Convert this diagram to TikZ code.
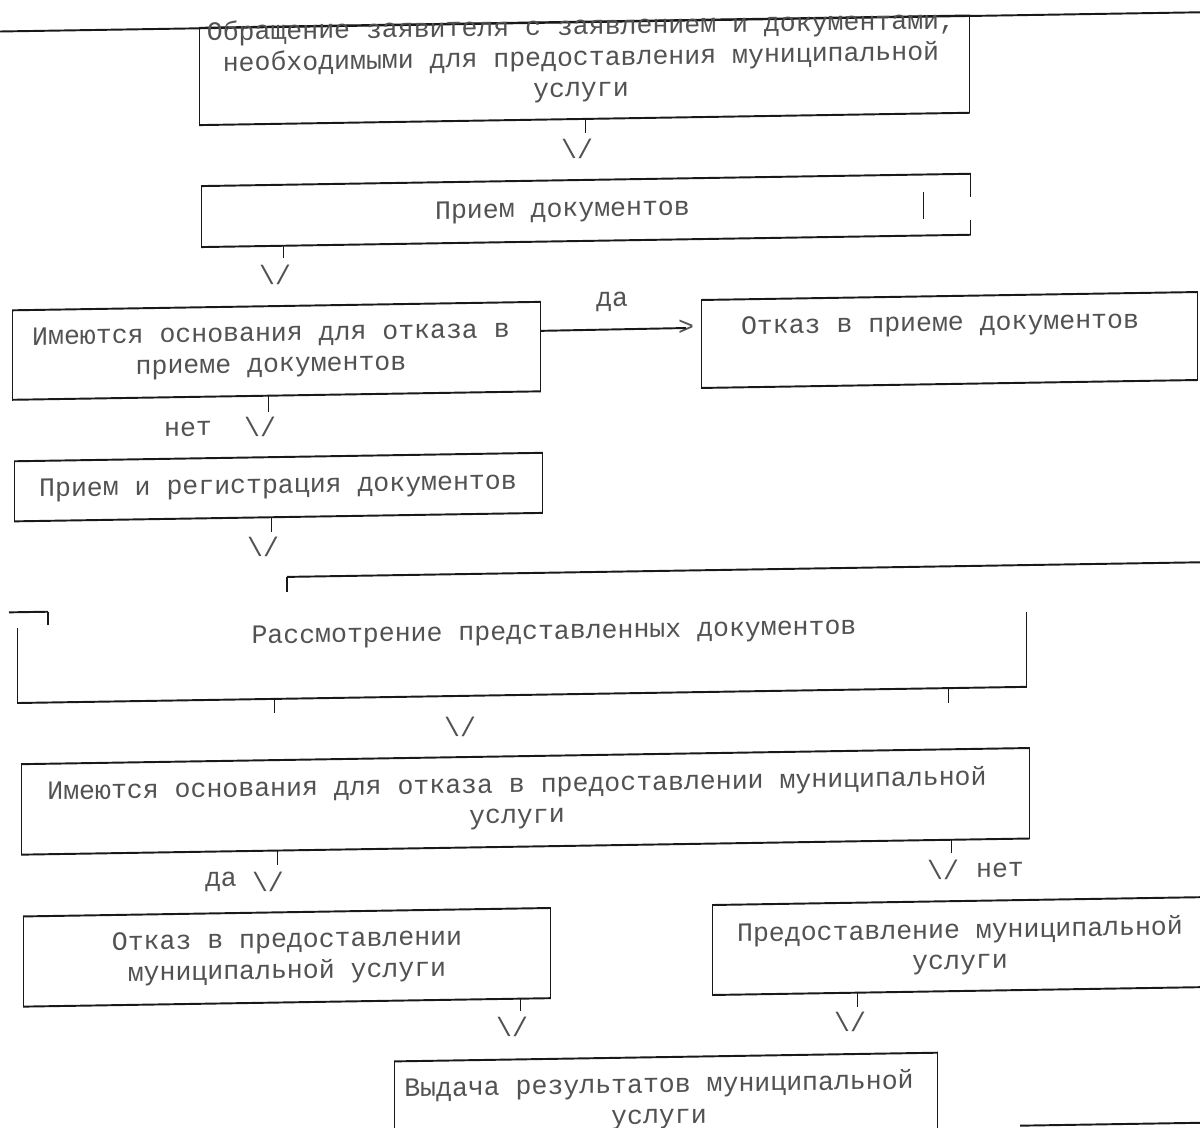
\documentclass[tikz,border=0pt]{standalone}
\usepackage{fontspec}
\newfontfamily\typew{Liberation Mono}

\tikzset{
  hline/.style={line width=1.1pt, black!90},
  vline/.style={line width=0.6pt, black!90},
  block/.style={draw=none, inner sep=0pt, outer sep=0pt, transform shape},
  txt/.style={font=\typew\fontsize{15.1pt}{17.6pt}\selectfont, text=black!68,
    align=center, inner sep=0pt, transform shape},
  vtip/.style={txt}
}

% the four sides of a block, thick across and thin down
\newcommand\boxsides[1]{%
  \draw[hline] (#1.north west) -- (#1.north east);
  \draw[hline] (#1.south west) -- (#1.south east);
  \draw[vline] (#1.north west) -- (#1.south west);
  \draw[vline] (#1.north east) -- (#1.south east);
}

\begin{document}
\begin{tikzpicture}[x=0.02cm, y=-0.02cm]

    \useasboundingbox[fill=white] (0,0) rectangle (1200,1128);

    % the scanned sheet lies a little askew
    \begin{scope}[yslant=0.016]

    % Blocks
    \node[block, minimum width=15.42cm, minimum height=1.946cm] (b1) at (584.5,79.65) {};
    \node[block, minimum width=15.40cm, minimum height=1.22cm] (b2) at (586,219.8) {};
    \node[block, minimum width=10.58cm, minimum height=1.79cm] (b3) at (276.5,355.25) {};
    \node[block, minimum width=9.94cm, minimum height=1.76cm] (b4) at (949.5,355.2) {};
    \node[block, minimum width=10.58cm, minimum height=1.202cm] (b5) at (278.5,491.55) {};
    \node[block, minimum width=20.2cm, minimum height=1.5cm] (b6) at (522,665.8) {};
    \node[block, minimum width=20.18cm, minimum height=1.81cm] (b7) at (525.5,809.75) {};
    \node[block, minimum width=10.56cm, minimum height=1.804cm] (b8) at (287,961.9) {};
    \node[block, minimum width=10.06cm, minimum height=1.8cm] (b9) at (963.5,961.4) {};
    \node[block, minimum width=10.88cm, minimum height=1.846cm] (b10) at (666,1113.85) {};

    % Frames
    \draw[hline] (-10,31.5) -- (1215,31.5);
    \boxsides{b1}
    \draw[hline] (b2.north west) -- (b2.north east);
    \draw[hline] (b2.south west) -- (b2.south east);
    \draw[vline] (b2.north west) -- (b2.south west);
    \draw[vline] (b2.north east) -- ++(0,23.2);
    \draw[vline] (b2.south east) -- ++(0,-14.8);
    \draw[vline] (b2.north east) ++(-47,17.7) -- ++(0,27);
    \boxsides{b3}
    \boxsides{b4}
    \boxsides{b5}
    \draw[vline] (287,596.6) -- (287,581.5);
    \draw[hline] (287,581.5) -- (1215,581.5);
    \draw[hline] (9,612.5) -- (48,612.5);
    \draw[vline] (48,612.5) -- (48,626);
    \draw[vline] (b6.north west) -- (b6.south west);
    \draw[hline] (b6.south west) -- (b6.south east);
    \draw[vline] (b6.south east) -- (b6.north east);
    \boxsides{b7}
    \boxsides{b8}
    \boxsides{b9}
    \boxsides{b10}
    \draw[hline] (1020,1142) -- (1215,1142);

    % Texts
    \node[txt] (t1) at (581,68) {Обращение заявителя с заявлением и документами,\\необходимыми для предоставления муниципальной\\услуги};
    \node[txt] (t2) at (562.5,220) {Прием документов};
    \node[txt] (t3) at (271,355) {Имеются основания для отказа в\\приеме документов};
    \node[txt] (t4) at (940,340) {Отказ в приеме документов};
    \node[txt] (t5) at (278,491.5) {Прием и регистрация документов};
    \node[txt] (t6) at (554,642) {Рассмотрение представленных документов};
    \node[txt] (t7) at (517,809.5) {Имеются основания для отказа в предоставлении муниципальной\\услуги};
    \node[txt] (t8) at (287,961.6) {Отказ в предоставлении\\муниципальной услуги};
    \node[txt] (t9) at (960,962.4) {Предоставление муниципальной\\услуги};
    \node[txt] (t10) at (659,1112) {Выдача результатов муниципальной\\услуги};

    % Typed arrow heads and answers
    \node[vtip] (v1) at (577,158.2) {\textbackslash/};
    \node[vtip] (v2) at (275,279.4) {\textbackslash/};
    \node[vtip] (v3) at (260,431.2) {\textbackslash/};
    \node[vtip] (v5) at (263,551.2) {\textbackslash/};
    \node[vtip] (v6) at (460,734.4) {\textbackslash/};
    \node[vtip] (v7a) at (268,886.3) {\textbackslash/};
    \node[vtip] (v7b) at (943,885.1) {\textbackslash/};
    \node[vtip] (v8) at (512,1035.2) {\textbackslash/};
    \node[vtip] (v9) at (850,1035.6) {\textbackslash/};
    \node[vtip] (gt) at (686,339) {>};
    \node[txt] (da1) at (612,311.8) {да};
    \node[txt] (net1) at (188,432) {нет};
    \node[txt] (da2) at (221,885.5) {да};
    \node[txt] (net2) at (1000,886) {нет};

    % Stubs under the blocks
    \draw[vline] (b1.south west) ++(386,0) -- ++(0,14) coordinate (e1);
    \draw[vline] (b2.south west) ++(82,0) -- ++(0,12) coordinate (e2);
    \draw[vline] (b3.south west) ++(256,0) -- ++(0,16) coordinate (e3);
    \draw[vline] (b5.south west) ++(257,0) -- ++(0,15) coordinate (e5);
    \draw[vline] (b6.south west) ++(257,0) -- ++(0,14.5) coordinate (e6a);
    \draw[vline] (b6.south west) ++(931,0) -- ++(0,15) coordinate (e6b);
    \draw[vline] (b7.south west) ++(256,0) -- ++(0,14.4) coordinate (e7a);
    \draw[vline] (b7.south west) ++(930,0) -- ++(0,13.2) coordinate (e7b);
    \draw[vline] (b8.south west) ++(497,0) -- ++(0,12) coordinate (e8);
    \draw[vline] (b9.south west) ++(145,0) -- ++(0,14.3) coordinate (e9);

    % Arrow to the refusal
    \draw[hline] (b3.north east) ++(0,29) -- (gt.center);

    \end{scope}

\end{tikzpicture}
\end{document}
